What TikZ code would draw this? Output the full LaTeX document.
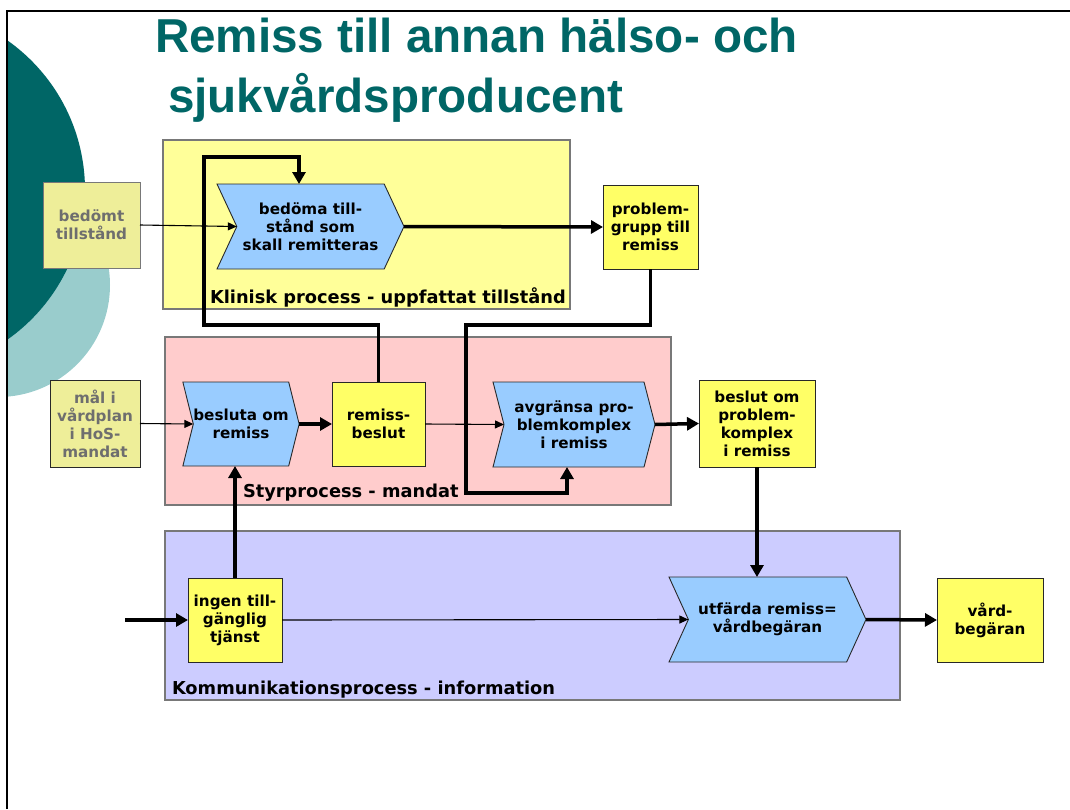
\documentclass[tikz,border=0pt]{standalone}
\usepackage{fontspec}
\usetikzlibrary{arrows.meta,shapes.symbols}
\newfontfamily\boxfont{DejaVu Sans}
\newfontfamily\headfont{Liberation Sans}
\definecolor{tealdark}{RGB}{0,102,102}
\definecolor{teallight}{RGB}{153,204,204}
\definecolor{clinfill}{RGB}{255,255,153}
\definecolor{ctrlfill}{RGB}{255,204,204}
\definecolor{commfill}{RGB}{204,204,255}
\definecolor{funcfill}{RGB}{153,204,255}
\definecolor{evfill}{RGB}{255,255,102}
\definecolor{infill}{RGB}{238,238,153}
\definecolor{intext}{RGB}{110,110,110}
\definecolor{edge}{RGB}{40,40,40}
\definecolor{lanedge}{RGB}{120,120,120}

\begin{document}
\begin{tikzpicture}[x=1pt,y=-1pt,
  every node/.style={inner sep=0pt,outer sep=0pt},
  lane/.style={draw=lanedge,line width=1.2pt,rectangle},
  lanelabel/.style={anchor=base west,font=\boxfont\bfseries\fontsize{17.8}{20}\selectfont},
  boxtext/.style={align=center,font=\boxfont\bfseries\fontsize{15.2}{18}\selectfont},
  event/.style={boxtext,draw=edge,line width=0.9pt,fill=evfill,rectangle},
  inbox/.style={boxtext,draw=lanedge,line width=0.9pt,fill=infill,text=intext,rectangle},
  func/.style={boxtext,draw=edge,line width=0.9pt,fill=funcfill,signal,signal from=west,signal to=east},
  flowthin/.style={draw=black,line width=1.1pt,-{Triangle[length=9pt,width=8pt]}},
  flowthick/.style={draw=black,line width=3.5pt,-{Triangle[length=12pt,width=13pt]}},
]
\useasboundingbox (0,0) rectangle (1070,809);

% decorative circles at the left edge
\begin{scope}
  \clip (7,11) rectangle (1070,809);
  \fill[teallight] (-2,285) circle (112pt);
  \fill[tealdark] (-98,190) circle (183pt);
\end{scope}
\draw[line width=1.2pt] (7,809) -- (7,11) -- (1070,11);

% title
\node[anchor=base west,text=tealdark,font=\headfont\bfseries\fontsize{47.6}{56}\selectfont] (title1) at (155,52) {Remiss till annan hälso- och};
\node[anchor=base west,text=tealdark,font=\headfont\bfseries\fontsize{47.6}{56}\selectfont] (title2) at (168,112) {sjukvårdsproducent};

% process lanes
\node[lane,fill=clinfill,minimum width=407pt,minimum height=169pt] (klin) at (366.5,224.5) {};
\node[lane,fill=ctrlfill,minimum width=506pt,minimum height=168pt] (styr) at (418,421) {};
\node[lane,fill=commfill,minimum width=735pt,minimum height=169pt] (komm) at (532.5,615.5) {};
\node[lanelabel] (klinlab) at (210,303) {Klinisk process - uppfattat tillstånd};
\node[lanelabel] (styrlab) at (243,497) {Styrprocess - mandat};
\node[lanelabel] (kommlab) at (172,694) {Kommunikationsprocess - information};

% inputs
\node[inbox,minimum width=97pt,minimum height=86pt] (bt) at (91.5,225) {bedömt\\tillstånd};
\node[inbox,draw=edge,minimum width=90pt,minimum height=87pt] (mal) at (95,423.5) {mål i\\vårdplan\\i HoS-\\mandat};

% functions
\node[func,minimum width=187pt,minimum height=85pt,signal pointer angle=130] (bed) at (310.5,226.5) {bedöma till-\\stånd som\\skall remitteras};
\node[func,minimum width=116pt,minimum height=84pt,signal pointer angle=152] (bes) at (241,424) {besluta om\\remiss};
\node[func,minimum width=162pt,minimum height=85pt,signal pointer angle=151] (avg) at (574,424.5) {avgränsa pro-\\blemkomplex\\i remiss};
\node[func,minimum width=197pt,minimum height=85pt,signal pointer angle=131] (utf) at (767.5,619.5) {utfärda remiss=\\vårdbegäran};

% events
\node[event,minimum width=95pt,minimum height=84pt] (pg) at (650.5,227) {problem-\\grupp till\\remiss};
\node[event,minimum width=93pt,minimum height=84pt] (rb) at (378.5,424) {remiss-\\beslut};
\node[event,minimum width=116pt,minimum height=87pt] (bom) at (757,423.5) {beslut om\\problem-\\komplex\\i remiss};
\node[event,minimum width=94pt,minimum height=84pt] (ing) at (235,620) {ingen till-\\gänglig\\tjänst};
\node[event,minimum width=106pt,minimum height=84pt] (vb) at (990,620) {vård-\\begäran};

% connector waypoints
\coordinate (src) at (125,620);
\coordinate (fbcorner) at (204,325);
\coordinate (fbtop) at (299,157);
\coordinate (pgcorner) at (466,325);
\coordinate (pglow) at (567,493);

% connectors
\draw[flowthin] (bt.east) -- (bed.west);
\draw[flowthick] (bed.east) -- (pg.west);
\draw[flowthick,line join=miter] (rb.north) |- (fbcorner) |- (fbtop) -- (fbtop |- bed.north);
\draw[flowthick,line join=miter] (pg.south) |- (pgcorner) |- (pglow) -- (pglow |- avg.south);
\draw[flowthin] (mal.east) -- (bes.west);
\draw[flowthick] (bes.east) -- (rb.west);
\draw[flowthin] (rb.east) -- (avg.west);
\draw[flowthick] (avg.east) -- (bom.west);
\draw[flowthick] (bom.south) -- (bom.south |- utf.north);
\draw[flowthick] (ing.north) -- (ing.north |- bes.south);
\draw[flowthick] (src) -- (ing.west);
\draw[flowthin] (ing.east) -- (utf.west);
\draw[flowthick] (utf.east) -- (vb.west);
\end{tikzpicture}
\end{document}
